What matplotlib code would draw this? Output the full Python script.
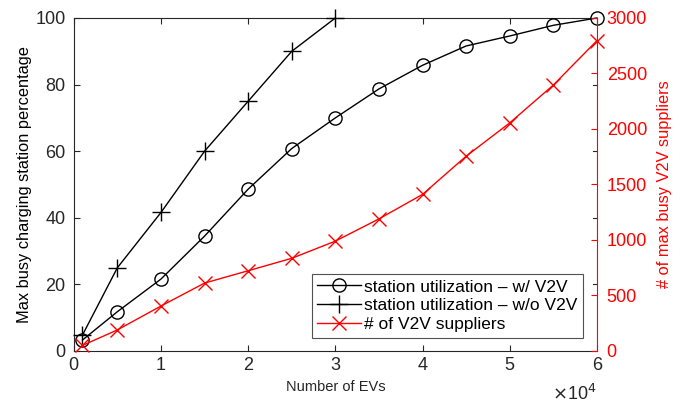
import matplotlib
matplotlib.use("Agg")
import matplotlib.pyplot as plt

plt.rcParams['font.family'] = ['Liberation Sans', 'DejaVu Sans']

evs = [1000, 5000, 10000, 15000, 20000, 25000, 30000, 35000, 40000, 45000, 50000, 55000, 60000]
util_w_v2v = [3.3, 11.8, 21.6, 34.5, 48.6, 60.8, 70, 78.7, 85.8, 91.6, 94.6, 97.8, 100]
evs_wo = [1000, 5000, 10000, 15000, 20000, 25000, 30000]
util_wo_v2v = [4.8, 25, 41.6, 60, 75, 90, 100]
suppliers = [50, 190, 405, 612, 723, 835, 990, 1190, 1411, 1755, 2055, 2396, 2796]

axc = '#262626'
fig = plt.figure(figsize=(6.83, 4.07), dpi=100)
ax = fig.add_axes([0.108, 0.1376, 0.766, 0.8182])
ax2 = ax.twinx()

h1, = ax.plot(evs, util_w_v2v, color='black', lw=1, marker='o', ms=9.5, mfc='none', mec='black', mew=1,
              label='station utilization \u2013 w/ V2V', clip_on=False, zorder=3)
h2, = ax.plot(evs_wo, util_wo_v2v, color='black', lw=1, marker='+', ms=13, mew=1,
              label='station utilization \u2013 w/o V2V', clip_on=False, zorder=3)
h3, = ax2.plot(evs, suppliers, color='red', lw=1, marker='x', ms=10.5, mew=1,
               label='# of V2V suppliers', clip_on=False, zorder=3)

ax.set_xlim(0, 60000)
ax.set_ylim(0, 100)
ax2.set_ylim(0, 3000)
ax.set_xticks([0, 10000, 20000, 30000, 40000, 50000, 60000])
ax.set_xticklabels(['0', '1', '2', '3', '4', '5', '6'])
ax.set_yticks([0, 20, 40, 60, 80, 100])
ax2.set_yticks([0, 500, 1000, 1500, 2000, 2500, 3000])

ax.tick_params(axis='both', direction='in', length=4, colors=axc, labelsize=13, width=0.8,
               top=True, right=False)
ax.tick_params(axis='y', pad=6)
ax.tick_params(axis='x', pad=4)
ax2.tick_params(axis='y', direction='in', length=4, colors='red', labelsize=13, width=0.8, pad=7)
for s in ['left', 'bottom', 'top']:
    ax.spines[s].set_color(axc)
    ax.spines[s].set_linewidth(0.8)
ax2.spines['right'].set_color('red')
ax2.spines['right'].set_linewidth(0.8)
for s in ['left', 'bottom', 'top']:
    ax2.spines[s].set_visible(False)
ax.spines['right'].set_visible(False)

# black ticks of left axis mirrored on right side
for yv in [20, 40, 60, 80]:
    ax.plot([1, 0.992], [yv / 100, yv / 100], transform=ax.transAxes, color=axc, lw=0.8, clip_on=False)

ax.set_xlabel('Number of EVs', fontsize=10.5, color=axc, labelpad=5)
ax.set_ylabel('Max busy charging station percentage', fontsize=11.8, color='black', labelpad=2)
ax2.set_ylabel('# of max busy V2V suppliers', fontsize=11.8, color='red', labelpad=7)

ax.text(1.0, -0.1, r'$\times$10$^4$', transform=ax.transAxes, ha='right', va='top', fontsize=13, color=axc)

leg = ax2.legend(handles=[h1, h2, h3], loc='lower right', bbox_to_anchor=(0.973, 0.04),
                 borderaxespad=0, fontsize=12.5, frameon=True, fancybox=False, handlelength=2.5,
                 handletextpad=0.2, labelspacing=0.22, borderpad=0.3)
leg.get_frame().set_edgecolor(axc)
leg.get_frame().set_linewidth(0.8)
leg.set_zorder(10)

fig.savefig('out.png', dpi=100)
